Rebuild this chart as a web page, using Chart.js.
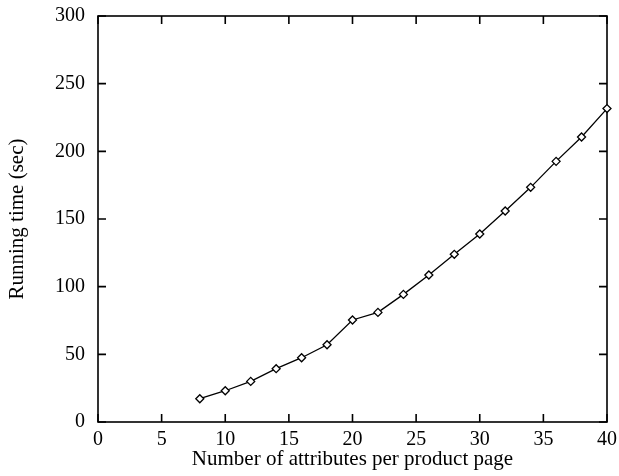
<!DOCTYPE html>
<html>
<head>
<meta charset="utf-8">
<script src="https://cdn.jsdelivr.net/npm/chart.js@4"></script>
<style>
    html, body { margin: 0; padding: 0; background: #fff; }
    #wrap { width: 619px; height: 476px; }
</style>
</head>
<body>
<div id="wrap"><canvas id="timeChart" width="619" height="476"></canvas></div>
<script>
// attributes per page vs. running time
const attributes = [8, 10, 12, 14, 16, 18, 20, 22, 24, 26, 28, 30, 32, 34, 36, 38, 40];
const runningTime = [17.2, 23.1, 30.0, 39.4, 47.5, 57.1, 75.4, 81.0, 94.3, 108.6, 123.9, 138.9, 155.9, 173.4, 192.6, 210.6, 231.6];
const xTicks = [0, 5, 10, 15, 20, 25, 30, 35, 40];
const yTicks = [0, 50, 100, 150, 200, 250, 300];

const serif = "'Liberation Serif', 'Times New Roman', serif";

// box round the plot plus gnuplot-style inward ticks on all four sides
const frame = {
    id: 'frame',
    beforeDatasetsDraw(chart) {
        const { ctx, chartArea: a, scales } = chart;
        const len = 8;
        ctx.save();
        ctx.strokeStyle = '#000';
        ctx.lineWidth = 1.6;
        ctx.strokeRect(a.left, a.top, a.right - a.left, a.bottom - a.top);
        ctx.beginPath();
        xTicks.forEach(v => {
            const px = scales.x.getPixelForValue(v);
            ctx.moveTo(px, a.bottom); ctx.lineTo(px, a.bottom - len);
            ctx.moveTo(px, a.top); ctx.lineTo(px, a.top + len);
        });
        yTicks.forEach(v => {
            const py = scales.y.getPixelForValue(v);
            ctx.moveTo(a.left, py); ctx.lineTo(a.left + len, py);
            ctx.moveTo(a.right, py); ctx.lineTo(a.right - len, py);
        });
        ctx.stroke();
        ctx.restore();
    }
};

new Chart(document.getElementById('timeChart'), {
    type: 'line',
    data: {
        datasets: [{
            data: attributes.map((a, i) => ({ x: a, y: runningTime[i] })),
            borderColor: '#000',
            borderWidth: 1.3,
            pointStyle: 'rectRot',
            pointRadius: 4,
            pointBackgroundColor: '#fff',
            pointBorderColor: '#000',
            pointBorderWidth: 1.3,
            tension: 0,
            clip: false
        }]
    },
    options: {
        responsive: false,
        animation: false,
        layout: { padding: { top: 16, right: 12, left: 0, bottom: 0 } },
        plugins: { legend: { display: false }, tooltip: { enabled: false } },
        scales: {
            x: {
                type: 'linear',
                min: 0, max: 40,
                afterBuildTicks: s => { s.ticks = xTicks.map(v => ({ value: v })); },
                afterFit: s => { s.height = 54; s.paddingLeft = 0; s.paddingRight = 0; },
                grid: { display: false, drawTicks: false },
                border: { display: false },
                ticks: { color: '#000', padding: 6, maxRotation: 0, font: { family: serif, size: 20 } },
                title: {
                    display: true,
                    text: 'Number of attributes per product page',
                    color: '#000',
                    padding: { top: 6 },
                    font: { family: serif, size: 21 }
                }
            },
            y: {
                min: 0, max: 300,
                afterBuildTicks: s => { s.ticks = yTicks.map(v => ({ value: v })); },
                afterFit: s => { s.width = 98; s.paddingTop = 0; s.paddingBottom = 0; },
                grid: { display: false, drawTicks: false },
                border: { display: false },
                ticks: { color: '#000', padding: 13, font: { family: serif, size: 20 } },
                title: {
                    display: true,
                    text: 'Running time (sec)',
                    color: '#000',
                    padding: { top: 5 },
                    font: { family: serif, size: 21 }
                }
            }
        }
    },
    plugins: [frame]
});
</script>
</body>
</html>
